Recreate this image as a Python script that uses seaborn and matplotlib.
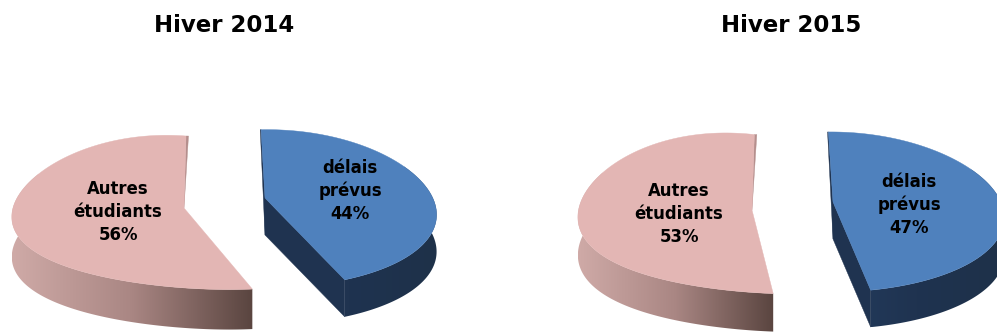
import numpy as np
import matplotlib
matplotlib.use("Agg")
import matplotlib.pyplot as plt
from matplotlib.patches import Polygon
import seaborn as sns

titles = ["Hiver 2014", "Hiver 2015"]
others_label = "Autres\nétudiants"
planned_label = "délais\nprévus"
others_share = [56, 53]
planned_share = [44, 47]

PINK_TOP = "#e3b6b4"
PINK_CUT = "#b58f8d"
PINK_WALL = ["#cfaaa7", "#a98683", "#5a4540"]
BLUE_TOP = "#4f81bd"
BLUE_CUT = "#1f3350"
BLUE_WALL = ["#233c5e", "#1f3350", "#1e3149"]

sns.set_theme(style="white")
plt.rcParams["font.family"] = ["DejaVu Sans"]

fig = plt.figure(figsize=(9.97, 3.33), dpi=100)
ax = fig.add_axes([0, 0, 1, 1])
ax.set_xlim(0, 997)
ax.set_ylim(333, 0)
ax.axis("off")
ax.set_autoscale_on(False)


def rim(theta, apex, shape):
    """Project disc angles (clockwise from twelve o'clock) onto the page."""
    radius, squash, persp, tilt, sag, bow = shape
    theta = np.radians(theta)
    x, y = np.sin(theta), np.cos(theta)
    scale = 1 / (1 + persp * y)
    px = apex[0] + radius * x * scale - bow * y ** 2
    py = apex[1] - squash * y * scale + tilt * x + sag * x ** 2
    return px, py


def draw_slice(share, start, apex, shape, depth, top, wall, cut, sliver, is_front_cut):
    angles = np.linspace(start, start + share * 3.6, 361)
    xs, ys = rim(angles, apex, shape)

    # outer wall: a horizontal shade clipped to the ribbon below the front of the rim
    front = np.cos(np.radians(angles)) < 0.5
    wx, wy = xs[front], ys[front]
    ribbon = Polygon(np.column_stack([np.r_[wx, wx[::-1]], np.r_[wy, wy[::-1] + depth]]),
                     closed=True, transform=ax.transData, fc="none", ec="none")
    ax.add_patch(ribbon)
    shade = np.array(sns.blend_palette(wall, 128))[np.newaxis, :, :3]
    image = ax.imshow(shade, extent=[xs.min(), xs.max(), ys.max() + depth, ys.min()],
                      aspect="auto", interpolation="bilinear", zorder=1)
    image.set_clip_path(ribbon)
    ax.set_xlim(0, 997)
    ax.set_ylim(333, 0)

    # the cut face that turns towards the viewer, plus the thin back-edge sliver
    if is_front_cut:
        ax.add_patch(Polygon(
            [(apex[0], apex[1]), (xs[-1], ys[-1]), (xs[-1], ys[-1] + depth),
             (apex[0], apex[1] + depth)],
            closed=True, fc=cut, ec=cut, lw=0.3, zorder=2))
        back_x, back_y = xs[0], ys[0]
        foot = apex[1] + depth
    else:
        back_x, back_y = xs[-1], ys[-1]
        foot = apex[1]
    ax.add_patch(Polygon(
        [(apex[0], foot), (back_x + sliver, back_y), (back_x, back_y), (apex[0], apex[1])],
        closed=True, fc=cut, ec=cut, lw=0.3, zorder=2))

    outline = np.column_stack([np.r_[apex[0], xs], np.r_[apex[1], ys]])
    ax.add_patch(Polygon(outline, closed=True, fc=top, ec=top, lw=0.3, zorder=3))


def label(x, y, head, value):
    ax.text(x, y, f"{head}\n{value}%", ha="center", va="center", fontsize=11.9,
            fontweight="bold", color="black", linespacing=1.36, zorder=5)


# winter 2014
draw_slice(others_share[0], 360 - others_share[0] * 3.6, (184, 208),
           (172, 75.8, 0.053, 12.4, 17.4, -2), 40, PINK_TOP, PINK_WALL, PINK_CUT, 2.5, False)
draw_slice(planned_share[0], -2.2, (265, 198),
           (170, 77.5, 0.134, 0, 6, -1.8), 37, BLUE_TOP, BLUE_WALL, BLUE_CUT, -0.8, True)
label(118, 212, others_label, others_share[0])
label(350, 191, planned_label, planned_share[0])

# winter 2015
draw_slice(others_share[1], 360 - others_share[1] * 3.6 + 2.5, (752, 210),
           (174, 79, 0.0375, 14, 18, 5), 38, PINK_TOP, PINK_WALL, PINK_CUT, 2.5, False)
draw_slice(planned_share[1], -1.0, (833, 202),
           (170, 78.8, 0.125, 0, 6, 2), 37, BLUE_TOP, BLUE_WALL, BLUE_CUT, -0.8, True)
label(679, 214, others_label, others_share[1])
label(909, 205, planned_label, planned_share[1])

for x, title in zip([224, 791], titles):
    ax.text(x, 25, title, ha="center", va="center", fontsize=16.5,
            fontweight="bold", color="black")

fig.savefig("out.png", dpi=100, facecolor="white")
